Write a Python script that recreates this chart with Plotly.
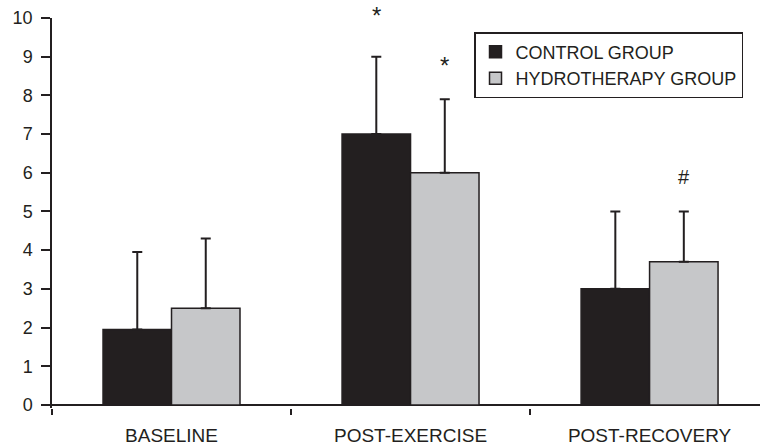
import plotly.graph_objects as go

categories = ["BASELINE", "POST-EXERCISE", "POST-RECOVERY"]
control_mean = [1.95, 7.0, 3.0]
control_err = [2.0, 2.0, 2.0]
hydro_mean = [2.5, 6.0, 3.7]
hydro_err = [1.8, 1.9, 1.3]
control_marks = ["", "*", ""]
hydro_marks = ["", "*", "#"]
control_mark_y = [None, 10.22, None]
hydro_mark_y = [None, 8.92, 5.9]
y_ticks = list(range(0, 11))

INK = "#231f20"
GREY = "#c6c7c9"
FONT = "Liberation Sans, Arial, sans-serif"
bargap = 0.427
Y_RANGE = [-0.08, 10]
PLOT_H = 390

fig = go.Figure()
fig.add_trace(go.Bar(
    x=categories, y=control_mean, name="CONTROL GROUP", legendgroup="a",
    marker=dict(color=INK, line=dict(color=INK, width=1.5)),
    error_y=dict(type="data", array=control_err, arrayminus=[0]*3, symmetric=False,
                 color=INK, thickness=2, width=5),
))
fig.add_trace(go.Bar(
    x=categories, y=hydro_mean, name="HYDROTHERAPY GROUP", legendgroup="b",
    marker=dict(color=GREY, line=dict(color=INK, width=1.5)),
    error_y=dict(type="data", array=hydro_err, arrayminus=[0]*3, symmetric=False,
                 color=INK, thickness=2, width=5),
))

off = (1 - bargap) / 4
px_per_unit = PLOT_H / (Y_RANGE[1] - Y_RANGE[0])
for i, c in enumerate(categories):
    for mark, my, sgn in ((control_marks[i], control_mark_y[i], -1),
                          (hydro_marks[i], hydro_mark_y[i], 1)):
        if mark:
            star = mark == "*"
            y_anchor = min(my, Y_RANGE[1])
            shift = (my - y_anchor) * px_per_unit + (-6 if star else 0)
            fig.add_annotation(x=i + sgn * off, y=y_anchor, xref="x", yref="y",
                               text=mark, showarrow=False, yanchor="middle",
                               yshift=shift, borderpad=0,
                               font=dict(family=FONT, size=24 if star else 20, color=INK))

fig.update_layout(
    width=760, height=448,
    margin=dict(l=52, r=0, t=18, b=40, autoexpand=False),
    paper_bgcolor="white", plot_bgcolor="white",
    barmode="group", bargap=bargap, bargroupgap=0,
    font=dict(family=FONT, color=INK),
    showlegend=True,
    legend=dict(x=0.976, y=0.964, xanchor="right", yanchor="top",
                bordercolor=INK, borderwidth=1.5, bgcolor="white",
                font=dict(family=FONT, size=18, color=INK),
                tracegroupgap=0, itemwidth=30),
    xaxis=dict(range=[-0.5, 2.462], showline=False, ticks="outside", automargin=False,
               tickson="boundaries", ticklen=6, tickwidth=1.5, tickcolor=INK,
               tickfont=dict(family=FONT, size=19, color=INK),
               showgrid=False, zeroline=False, ticklabelstandoff=14),
    yaxis=dict(range=Y_RANGE, tickvals=y_ticks, showline=True, linecolor=INK,
               linewidth=1.5, ticks="outside", ticklen=9, tickwidth=1.5, tickcolor=INK,
               tickfont=dict(family=FONT, size=18, color=INK), showgrid=False,
               zeroline=True, zerolinecolor=INK, zerolinewidth=1.5, automargin=False,
               ticklabelstandoff=5),
)
fig.write_html("out.html", config={"displayModeBar": False},
               post_script="document.body.style.margin='0';document.body.style.overflow='hidden';")
